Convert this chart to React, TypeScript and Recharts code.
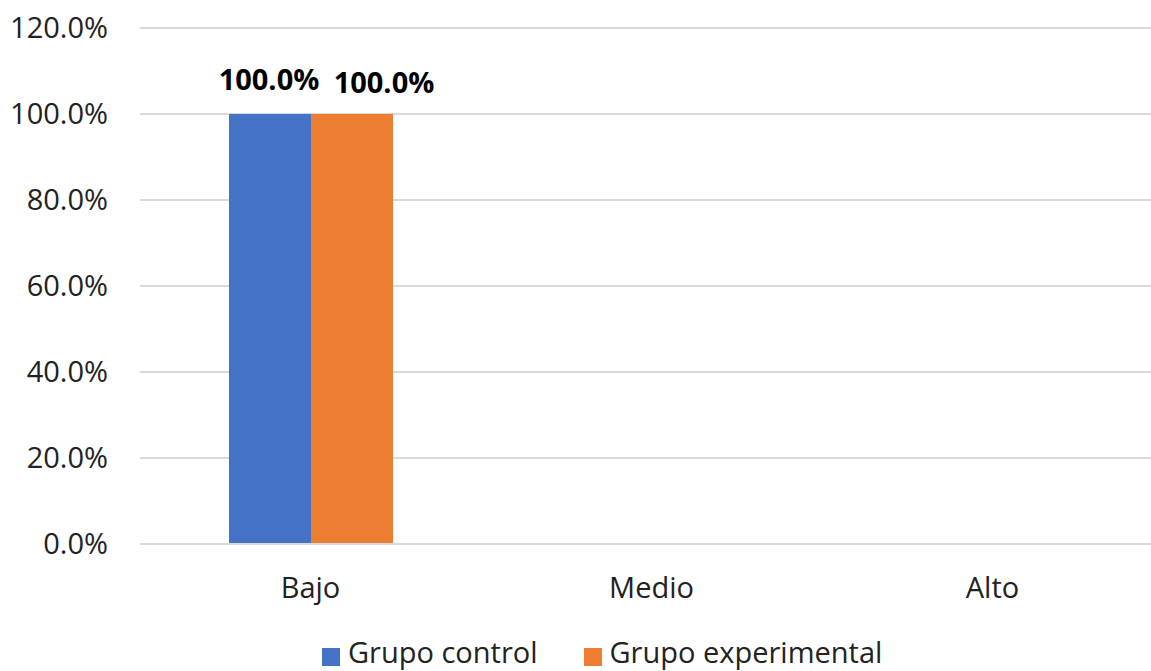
import React from "react";
import { BarChart, Bar, XAxis, YAxis, CartesianGrid, LabelList } from "recharts";

const categories = ["Bajo", "Medio", "Alto"];
const grupoControl = [1.0, 0, 0];
const grupoExperimental = [1.0, 0, 0];
const yTicks = [0, 0.2, 0.4, 0.6, 0.8, 1.0, 1.2];

const seriesInfo = [
  { key: "control", name: "Grupo control", color: "#4472C4", values: grupoControl },
  { key: "experimental", name: "Grupo experimental", color: "#ED7D31", values: grupoExperimental },
];

const data = categories.map((cat, i) => ({
  cat,
  control: grupoControl[i],
  experimental: grupoExperimental[i],
}));

const FONT = "'Open Sans', sans-serif";
const pct = (v: number) => `${(v * 100).toFixed(1)}%`;

// Value label above a bar; zero values get no label
const makeLabel = (dx: number, dy: number) => (props: any) => {
  const { x, y, width, value } = props;
  if (!value) return null;
  return (
    <text
      x={Number(x) + Number(width) / 2 + dx}
      y={Number(y) + dy}
      textAnchor="middle"
      fontFamily={FONT}
      fontWeight={700}
      fontSize={29}
      fill="#000"
    >
      {pct(Number(value))}
    </text>
  );
};

export default function App() {
  return (
    <div
      style={{
        position: "absolute",
        left: 0,
        top: 0,
        width: 1151,
        height: 671,
        overflow: "hidden",
        background: "#fff",
        fontFamily: FONT,
      }}
    >
      <BarChart
        width={1170}
        height={671}
        data={data}
        margin={{ top: 28, right: 7, bottom: 67, left: 0 }}
        barGap={0}
        barSize={82}
      >
        <CartesianGrid vertical={false} stroke="#D9D9D9" strokeWidth={2} />
        <XAxis
          dataKey="cat"
          axisLine={{ stroke: "#D9D9D9", strokeWidth: 2 }}
          tickLine={false}
          tickSize={0}
          tickMargin={33}
          height={60}
          tick={{ fontFamily: FONT, fontSize: 29, fill: "#222" }}
        />
        <YAxis
          width={140}
          domain={[0, 1.2]}
          ticks={yTicks}
          tickFormatter={pct}
          axisLine={false}
          tickLine={false}
          tickSize={0}
          tickMargin={32}
          tick={{ fontFamily: FONT, fontSize: 29, fill: "#222" }}
        />
        <Bar dataKey="control" name="Grupo control" fill="#4472C4" isAnimationActive={false}>
          <LabelList dataKey="control" content={makeLabel(-1, -24)} />
        </Bar>
        <Bar dataKey="experimental" name="Grupo experimental" fill="#ED7D31" isAnimationActive={false}>
          <LabelList dataKey="experimental" content={makeLabel(32, -21)} />
        </Bar>
      </BarChart>
      <div
        style={{
          position: "absolute",
          left: 322,
          top: 634,
          display: "flex",
          alignItems: "flex-start",
          fontSize: 29,
          color: "#222",
          lineHeight: "36px",
          whiteSpace: "nowrap",
        }}
      >
        {seriesInfo.map((s, i) => (
          <div
            key={s.key}
            style={{ display: "flex", alignItems: "flex-start", marginRight: i === 0 ? 46 : 0 }}
          >
            <span
              style={{
                width: 18,
                height: 18,
                background: s.color,
                display: "inline-block",
                marginTop: 14,
                marginRight: 8,
              }}
            />
            <span>{s.name}</span>
          </div>
        ))}
      </div>
    </div>
  );
}
